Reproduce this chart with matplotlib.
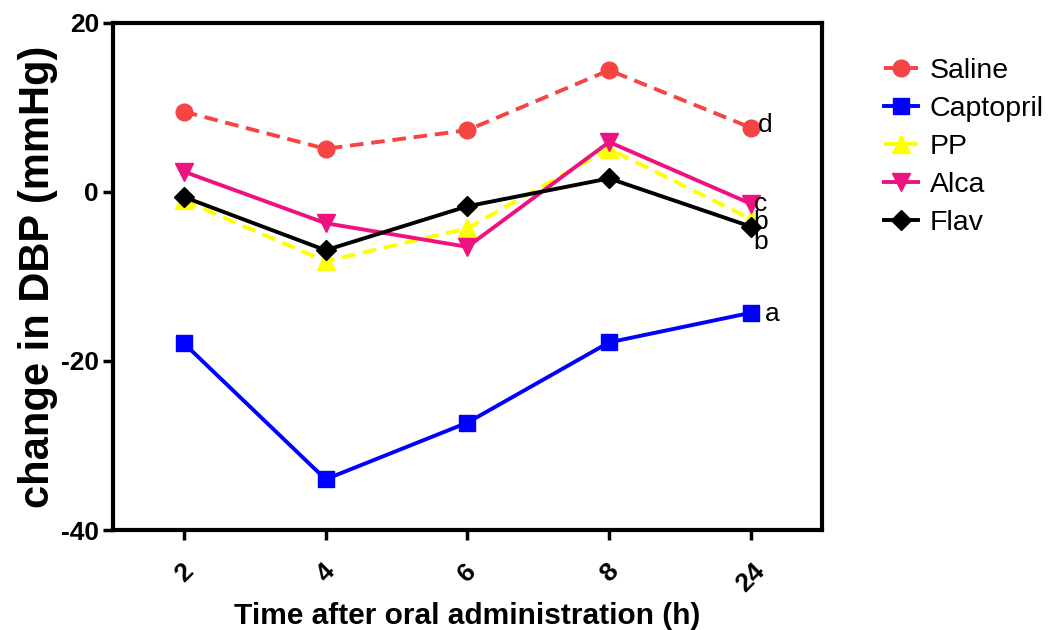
import matplotlib.pyplot as plt

plt.rcParams['font.family'] = ['Liberation Sans', 'DejaVu Sans']
plt.rcParams['axes.unicode_minus'] = False

times = ['2', '4', '6', '8', '24']
saline = [9.5, 5.1, 7.3, 14.4, 7.6]
captopril = [-17.9, -34.0, -27.3, -17.8, -14.3]
pp = [-1.0, -8.2, -4.3, 5.1, -3.2]
alca = [2.4, -3.7, -6.5, 5.9, -1.4]
flav = [-0.6, -6.9, -1.7, 1.6, -4.1]

# letter, series value at 24 h, offset in points
letters = [('d', saline[-1], (5, 2)), ('c', alca[-1], (2, 0)),
           ('b', pp[-1], (2, -2)), ('b', flav[-1], (2, -11)),
           ('a', captopril[-1], (10, -1))]

fig = plt.figure(figsize=(10.5, 6.3), dpi=100)
ax = fig.add_axes([0.1076, 0.1587, 0.675, 0.805])

x = range(len(times))
ax.plot(x, saline, color='#f44444', ls='--', lw=2.8, marker='o', ms=12, label='Saline', dashes=(3.5, 2))
ax.plot(x, captopril, color='#0000ff', lw=2.8, marker='s', ms=12, label='Captopril')
ax.plot(x, pp, color='#ffff00', ls='--', lw=2.8, marker='^', ms=13, label='PP', dashes=(3.5, 2))
ax.plot(x, alca, color='#ee1180', lw=2.8, marker='v', ms=13, label='Alca')
ax.plot(x, flav, color='black', lw=2.8, marker='D', ms=10, label='Flav')

for txt, yv, off in letters:
    ax.annotate(txt, (4, yv), xytext=off, textcoords='offset points',
                fontsize=19, va='center', ha='left')

ax.set_xlim(-0.5, 4.5)
ax.set_ylim(-40, 20)
ax.set_yticks([-40, -20, 0, 20])
ax.set_xticks(list(x))
ax.set_xticklabels(times, rotation=45, fontweight='bold', fontsize=19)
for lab in ax.get_yticklabels():
    lab.set_fontweight('bold')
    lab.set_fontsize(19)
for s in ax.spines.values():
    s.set_linewidth(3)
ax.tick_params(width=2.5, length=7, direction='out')
ax.tick_params(axis='x', pad=14)
ax.tick_params(axis='y', pad=3)

ax.set_xlabel('Time after oral administration (h)', fontsize=21.5, fontweight='bold', labelpad=4)
ax.set_ylabel('change in DBP (mmHg)', fontsize=30, fontweight='bold', labelpad=2)

ax.legend(loc='upper left', bbox_to_anchor=(0.831, 0.926), bbox_transform=fig.transFigure,
          borderaxespad=0, frameon=False, fontsize=20.5,
          handlelength=1.2, labelspacing=0.42, handletextpad=0.4)

fig.savefig('out.png', dpi=100)
